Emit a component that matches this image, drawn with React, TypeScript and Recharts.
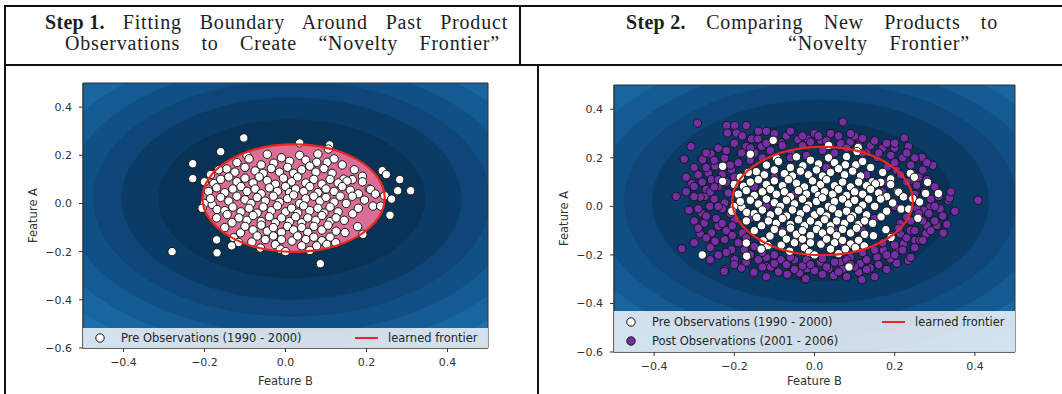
import { ScatterChart, Scatter, XAxis, YAxis, ReferenceArea, Legend } from 'recharts'

type Pt = [number, number] // [Feature B, Feature A]

// pre observations (1990 - 2000)
const prePoints: Pt[] = [
  [-0.103, 0.272], [-0.16, 0.215], [-0.095, 0.199], [-0.045, 0.204], [0.035, 0.251], [0.109, 0.243], [0.106, 0.226], [0.08, 0.205],
  [-0.12, 0.17], [-0.09, 0.185], [-0.06, 0.16], [-0.029, 0.167], [-0.01, 0.19], [0.01, 0.175], [0.035, 0.2], [0.05, 0.18],
  [0.077, 0.171], [0.103, 0.171], [0.12, 0.185], [0.14, 0.16],
  [-0.229, 0.165], [-0.229, 0.103], [-0.145, 0.143], [-0.185, 0.12], [-0.165, 0.14], [-0.125, 0.13], [-0.1, 0.15], [-0.075, 0.135],
  [-0.055, 0.125], [-0.035, 0.145], [-0.015, 0.13], [0.005, 0.15], [0.02, 0.125], [0.04, 0.14], [0.06, 0.155], [0.075, 0.13],
  [0.095, 0.145], [0.115, 0.125], [0.144, 0.101], [0.165, 0.099], [0.19, 0.113], [0.17, 0.14], [0.239, 0.136], [0.249, 0.12], [0.282, 0.099],
  [-0.2, 0.09], [-0.177, 0.083], [-0.16, 0.1], [-0.14, 0.11], [-0.12, 0.09], [-0.1, 0.105], [-0.08, 0.085], [-0.065, 0.11],
  [-0.045, 0.095], [-0.025, 0.08], [-0.005, 0.105], [0.015, 0.09], [0.03, 0.11], [0.05, 0.085], [0.07, 0.1], [0.09, 0.08],
  [0.11, 0.1], [0.13, 0.085], [0.152, 0.093], [0.19, 0.09], [0.207, 0.06],
  [-0.19, 0.05], [-0.17, 0.065], [-0.15, 0.045], [-0.13, 0.06], [-0.11, 0.07], [-0.095, 0.05], [-0.075, 0.06], [-0.06, 0.04],
  [-0.04, 0.065], [-0.02, 0.05], [0.0, 0.07], [0.01, 0.045], [0.025, 0.06], [0.045, 0.05], [0.06, 0.07], [0.08, 0.045],
  [0.1, 0.06], [0.12, 0.05], [0.14, 0.07], [0.16, 0.055], [0.18, 0.04], [0.21, 0.058], [0.222, 0.039], [0.245, 0.032],
  [0.277, 0.053], [0.309, 0.053], [0.262, 0.018],
  [-0.2, 0.0], [-0.181, -0.004], [-0.185, 0.02], [-0.16, 0.025], [-0.14, 0.01], [-0.12, 0.03], [-0.1, 0.015], [-0.085, 0.0],
  [-0.07, 0.025], [-0.05, 0.01], [-0.03, 0.03], [-0.015, 0.005], [0.005, 0.02], [0.02, 0.035], [0.035, 0.0], [0.05, 0.02],
  [0.07, 0.03], [0.085, 0.01], [0.1, 0.025], [0.12, 0.005], [0.135, 0.03], [0.165, 0.03], [0.195, 0.014], [0.216, -0.011],
  [0.235, -0.011], [0.15, 0.0],
  [-0.206, -0.02], [-0.169, -0.025], [-0.15, -0.03], [-0.13, -0.015], [-0.11, -0.035], [-0.09, -0.02], [-0.07, -0.04], [-0.055, -0.015],
  [-0.035, -0.03], [-0.02, -0.01], [0.0, -0.035], [0.015, -0.02], [0.03, -0.04], [0.045, -0.01], [0.06, -0.03], [0.08, -0.02],
  [0.095, -0.04], [0.11, -0.015], [0.13, -0.035], [0.166, -0.043], [0.258, -0.049], [0.18, -0.02],
  [-0.144, -0.046], [-0.132, -0.08], [-0.115, -0.06], [-0.095, -0.07], [-0.08, -0.05], [-0.06, -0.075], [-0.04, -0.055], [-0.025, -0.08],
  [-0.01, -0.06], [0.01, -0.075], [0.025, -0.055], [0.04, -0.08], [0.055, -0.06], [0.075, -0.07], [0.09, -0.05], [0.11, -0.075],
  [0.125, -0.06], [0.145, -0.07], [0.178, -0.096], [-0.17, -0.06],
  [-0.111, -0.122], [-0.1, -0.095], [-0.08, -0.11], [-0.06, -0.09], [-0.045, -0.115], [-0.03, -0.1], [-0.01, -0.12], [0.005, -0.095],
  [0.02, -0.11], [0.04, -0.1], [0.055, -0.12], [0.07, -0.095], [0.09, -0.11], [0.105, -0.09], [0.125, -0.115], [0.147, -0.121],
  [0.191, -0.128], [-0.15, -0.1],
  [-0.128, -0.142], [-0.116, -0.162], [-0.083, -0.16], [-0.07, -0.135], [-0.05, -0.15], [-0.03, -0.135], [-0.01, -0.15], [0.016, -0.156],
  [0.03, -0.135], [0.05, -0.15], [0.07, -0.14], [0.09, -0.155], [0.11, -0.14], [0.124, -0.163], [-0.17, -0.151],
  [-0.169, -0.205], [-0.133, -0.176], [-0.062, -0.185], [-0.025, -0.171], [-0.013, -0.19], [0.04, -0.176], [0.077, -0.176], [0.102, -0.17],
  [0.0, -0.2], [0.06, -0.195], [-0.28, -0.2], [0.086, -0.25],
]

// post observations (2001 - 2006), right panel only
const postPoints: Pt[] = [
  [-0.292, 0.343], [-0.308, 0.247], [-0.325, 0.195], [-0.28, 0.199], [-0.258, 0.216], [-0.345, 0.041], [-0.306, 0.094], [-0.3, 0.082],
  [-0.313, -0.016], [-0.331, -0.174], [-0.219, 0.333], [-0.199, 0.333], [-0.17, 0.333], [-0.195, 0.302], [-0.217, 0.302], [-0.12, 0.309],
  [-0.157, 0.278], [-0.141, 0.278], [-0.132, 0.247], [-0.17, 0.247], [-0.224, 0.199], [-0.248, 0.165], [-0.265, 0.137], [-0.257, 0.11],
  [-0.24, 0.082], [-0.273, 0.041], [-0.261, 0.0], [-0.281, -0.028], [-0.275, -0.069], [-0.257, -0.11], [-0.24, -0.082], [-0.224, -0.137],
  [-0.248, -0.144], [-0.224, -0.261], [-0.199, -0.22], [-0.182, -0.254], [-0.153, -0.278], [-0.116, -0.247], [-0.066, -0.282], [-0.037, -0.275],
  [-0.025, -0.3], [-0.083, -0.22], [-0.207, -0.179], [-0.199, -0.055], [-0.224, 0.014], [-0.215, 0.055], [-0.207, 0.151], [-0.182, 0.22],
  [-0.149, 0.22], [-0.083, 0.261], [-0.041, 0.275], [-0.017, 0.278], [-0.058, 0.22],
  [0.071, 0.348], [0.224, 0.282], [0.234, 0.247], [0.268, 0.201], [0.251, 0.197], [0.295, 0.169], [0.408, 0.025], [0.334, 0.025],
  [0.337, 0.035], [0.313, -0.01], [0.305, -0.078], [0.33, -0.074], [0.321, -0.11], [0.28, -0.078], [0.278, -0.113], [0.263, -0.044],
  [0.251, -0.14], [0.234, -0.223], [0.205, -0.234], [0.189, -0.216], [0.139, -0.254], [0.118, -0.302], [0.11, -0.271], [0.048, -0.285],
  [0.036, -0.257], [0.015, -0.23], [-0.022, -0.298], [-0.018, -0.257], [0.114, 0.269], [0.089, 0.265], [0.065, 0.259], [0.015, 0.272],
  [-0.01, 0.265], [0.131, 0.224], [0.156, 0.201], [0.181, 0.162], [0.205, 0.148], [0.239, 0.107], [0.255, 0.087], [0.288, -0.003],
  [0.272, -0.016], [0.263, -0.14], [0.222, -0.154], [0.205, -0.181], [0.172, -0.181], [0.156, -0.209], [0.114, -0.236], [0.089, -0.209],
  [0.065, -0.23], [0.239, -0.099], [0.214, -0.113], [0.255, -0.01], [0.23, -0.044], [0.214, -0.071],
  [-0.225, -0.268], [-0.279, 0.192], [-0.285, 0.038], [-0.285, -0.113], [-0.151, -0.271], [-0.109, -0.25], [-0.068, -0.28],
  [-0.29, 0.13], [-0.27, 0.07], [-0.25, 0.03], [-0.23, -0.01], [-0.245, -0.05], [-0.22, -0.1], [-0.205, -0.12], [-0.19, -0.15],
  [-0.175, -0.18], [-0.16, -0.2], [-0.14, -0.22], [-0.12, -0.21], [-0.1, -0.235], [-0.07, -0.24], [-0.05, -0.22], [-0.03, -0.245],
  [0.0, -0.265], [0.02, -0.28], [0.07, -0.26], [0.1, -0.25], [0.13, -0.22], [0.16, -0.24], [0.18, -0.2], [0.2, -0.16],
  [0.23, -0.13], [0.25, -0.1], [0.27, -0.06], [0.285, -0.03], [0.29, 0.03], [0.275, 0.06], [0.26, 0.12], [0.24, 0.17],
  [0.22, 0.2], [0.19, 0.21], [0.17, 0.24], [0.14, 0.25], [0.1, 0.29], [0.04, 0.3], [0.0, 0.3], [-0.03, 0.25],
  [-0.07, 0.29], [-0.1, 0.27], [-0.11, 0.23], [-0.13, 0.2], [-0.16, 0.19], [-0.19, 0.18], [-0.21, 0.17], [-0.23, 0.13],
  [-0.22, 0.1], [-0.2, 0.12], [-0.24, 0.11], [-0.26, 0.06], [-0.24, 0.0], [-0.21, -0.03], [-0.23, -0.07], [-0.205, -0.08],
  [-0.18, -0.11], [-0.17, -0.13], [-0.15, -0.165], [-0.13, -0.19], [-0.1, -0.2], [-0.06, -0.21], [-0.02, -0.22], [0.02, -0.215],
  [0.05, -0.23], [0.08, -0.22], [0.12, -0.19], [0.15, -0.18], [0.17, -0.15], [0.19, -0.12], [0.21, -0.09], [0.24, -0.06],
  [0.26, -0.03], [0.25, 0.05], [0.23, 0.1], [0.215, 0.13], [0.2, 0.18], [0.16, 0.22], [0.12, 0.22], [0.08, 0.24],
  [0.05, 0.22], [0.02, 0.23], [-0.02, 0.21], [-0.06, 0.2],
  [-0.15, 0.08], [-0.12, 0.0], [-0.08, -0.1], [0.0, 0.1], [0.05, -0.1], [0.1, 0.05], [0.15, -0.05], [0.17, 0.06],
  [0.13, 0.13], [-0.05, 0.05], [0.07, -0.15], [-0.1, 0.12], [0.12, -0.1], [0.18, 0.1], [0.2, 0.0], [-0.16, -0.05],
  [0.03, 0.16], [-0.03, -0.16],
  [-0.18, 0.29], [-0.14, 0.31], [-0.1, 0.3], [-0.06, 0.31], [-0.03, 0.29], [0.01, 0.29], [0.03, 0.27], [0.06, 0.29],
  [0.09, 0.3], [0.12, 0.28], [0.15, 0.27], [0.18, 0.26], [0.2, 0.24], [-0.08, 0.25], [-0.12, 0.26], [-0.16, 0.24],
  [0.04, 0.25], [0.11, 0.25],
  [-0.27, 0.16], [-0.25, 0.19], [-0.22, 0.23], [-0.2, 0.26], [-0.24, 0.24], [-0.27, 0.22], [-0.3, 0.16], [-0.32, 0.12],
  [-0.3, 0.04], [-0.29, -0.01], [-0.27, -0.04], [-0.3, -0.06], [-0.29, -0.09], [-0.32, 0.06], [-0.28, 0.1], [-0.25, 0.08],
  [-0.27, -0.13], [-0.26, -0.17], [-0.24, -0.2], [-0.22, -0.19], [-0.2, -0.24], [-0.17, -0.23], [-0.3, -0.15], [-0.26, -0.22],
  [-0.13, -0.25], [-0.09, -0.27], [-0.05, -0.26], [-0.01, -0.24], [0.03, -0.25], [0.06, -0.27], [0.09, -0.24], [0.13, -0.26],
  [0.15, -0.29], [0.08, -0.29], [-0.12, -0.29],
  [0.2, -0.2], [0.22, -0.18], [0.25, -0.17], [0.27, -0.14], [0.29, -0.1], [0.3, -0.06], [0.24, -0.21], [0.18, -0.26],
  [0.3, 0.0], [0.31, 0.04], [0.3, 0.08], [0.28, 0.11], [0.32, -0.04], [0.35, -0.02], [0.34, 0.06],
  [0.27, 0.15], [0.25, 0.2], [0.23, 0.22], [0.28, 0.18], [0.2, 0.26],
]

const xTicks = [-0.4, -0.2, 0, 0.2, 0.4]
const yTicks = [-0.6, -0.4, -0.2, 0, 0.2, 0.4]

// decision-function contour levels (outermost first)
const contourCenter = [0.015, 0.02]
const contourRadii = [0.86, 0.78, 0.7, 0.63, 0.56, 0.49, 0.42, 0.33]
const contourColors = ['#2079b7', '#1c70ac', '#1866a0', '#145b93', '#115086', '#0e4677', '#0b3c67', '#093356']
const contourBackground = '#2783c2'

const frontierCenter = [0.02, 0.022]
const frontierRadii = [0.225, 0.223]

const PRE_FILL = '#ffffff'
const POST_FILL = '#7530a8'
const FRONTIER_RED = '#e8281e'
const TICK_COLOR = '#333'
const SANS = '"DejaVu Sans", Verdana, sans-serif'

const toRows = (pts: Pt[]) => pts.map(([b, a]) => ({ b, a }))
const fmt = (v: number) => v.toFixed(1).replace('-', '\u2212')

const ellipse = (fill: string, stroke = 'none', strokeWidth = 0) => (p: any) => (
  <ellipse
    cx={p.x + p.width / 2}
    cy={p.y + p.height / 2}
    rx={Math.abs(p.width) / 2}
    ry={Math.abs(p.height) / 2}
    fill={fill}
    fillOpacity={1}
    stroke={stroke}
    strokeWidth={strokeWidth}
    clipPath={p.clipPath}
  />
)

const dot = (fill: string) => (p: any) => (
  <circle cx={p.cx} cy={p.cy} r={4.2} fill={fill} stroke="#151515" strokeWidth={1} />
)

function Marker({ fill }: { fill: string }) {
  return (
    <svg width={10} height={10} style={{ position: 'absolute', left: -5, top: -5 }}>
      <circle cx={5} cy={5} r={4.2} fill={fill} stroke="#151515" strokeWidth={1} />
    </svg>
  )
}

interface LegendRow { label: string; fill: string }

function LegendBox({ width, height, rows, markerX, textX, rowY, lineX, lineW }: {
  width: number; height: number; rows: LegendRow[]; markerX: number; textX: number; rowY: number[]; lineX: number; lineW: number
}) {
  const text = { position: 'absolute' as const, fontFamily: SANS, fontSize: 11.5, color: '#262626', lineHeight: '14px', whiteSpace: 'nowrap' as const }
  return (
    <div style={{ position: 'relative', width, height, background: 'rgba(255,255,255,0.8)' }}>
      {rows.map((r, i) => (
        <div key={r.label}>
          <div style={{ position: 'absolute', left: markerX, top: rowY[i] }}><Marker fill={r.fill} /></div>
          <div style={{ ...text, left: textX, top: rowY[i] - 7 }}>{r.label}</div>
        </div>
      ))}
      <div style={{ position: 'absolute', left: lineX, top: rowY[0] - 1.25, width: lineW, height: 2.5, background: FRONTIER_RED }} />
      <div style={{ ...text, left: lineX + lineW + 10, top: rowY[0] - 7 }}>learned frontier</div>
    </div>
  )
}

function NoveltyPanel({ left, width, margin, xAxisHeight, showPost, legendTop }: {
  left: number; width: number; margin: { top: number; right: number; bottom: number; left: number }
  xAxisHeight: number; showPost: boolean; legendTop: number
}) {
  const plotLeft = margin.left + 50
  const plotWidth = width - margin.right - plotLeft
  const plotBottom = 394 - margin.bottom - xAxisHeight
  const legendHeight = plotBottom - legendTop
  const rows: LegendRow[] = [{ label: 'Pre Observations (1990 - 2000)', fill: PRE_FILL }]
  if (showPost) rows.push({ label: 'Post Observations (2001 - 2006)', fill: POST_FILL })
  const rowY = showPost ? [11, 30] : [10]
  const tick = { fontSize: 11, fill: TICK_COLOR, fontFamily: SANS }

  return (
    <div style={{ position: 'absolute', left, top: 0 }}>
      <ScatterChart width={width} height={394} margin={margin}>
        <XAxis
          type="number"
          dataKey="b"
          domain={[-0.5, 0.5]}
          ticks={xTicks}
          allowDataOverflow
          tickFormatter={fmt}
          height={xAxisHeight}
          tick={tick}
          tickSize={4}
          tickMargin={6}
          axisLine={{ stroke: '#333' }}
          tickLine={{ stroke: '#333' }}
          label={{ value: 'Feature B', position: 'insideBottom', offset: 3, fill: TICK_COLOR, fontSize: 11.5, fontFamily: SANS }}
        />
        <YAxis
          type="number"
          dataKey="a"
          domain={[-0.6, 0.5]}
          ticks={yTicks}
          allowDataOverflow
          tickFormatter={fmt}
          width={50}
          tick={tick}
          tickSize={4}
          tickMargin={7}
          axisLine={{ stroke: '#333' }}
          tickLine={{ stroke: '#333' }}
          label={{ value: 'Feature A', angle: -90, position: 'insideLeft', offset: 0, fill: TICK_COLOR, fontSize: 11.5, fontFamily: SANS, style: { textAnchor: 'middle' } }}
        />
        <ReferenceArea x1={-0.5} x2={0.5} y1={-0.6} y2={0.5} fill={contourBackground} fillOpacity={1} stroke="none" ifOverflow="hidden" />
        {contourRadii.map((r, i) => (
          <ReferenceArea
            key={r}
            x1={contourCenter[0] - r}
            x2={contourCenter[0] + r}
            y1={contourCenter[1] - r}
            y2={contourCenter[1] + r}
            ifOverflow="hidden"
            shape={ellipse(contourColors[i])}
          />
        ))}
        {!showPost && (
          <ReferenceArea
            x1={frontierCenter[0] - frontierRadii[0]}
            x2={frontierCenter[0] + frontierRadii[0]}
            y1={frontierCenter[1] - frontierRadii[1]}
            y2={frontierCenter[1] + frontierRadii[1]}
            ifOverflow="hidden"
            shape={ellipse('#dc6d96')}
          />
        )}
        {showPost && (
          <Scatter name="Post Observations (2001 - 2006)" data={toRows(postPoints)} shape={dot(POST_FILL)} isAnimationActive={false} />
        )}
        <Scatter name="Pre Observations (1990 - 2000)" data={toRows(prePoints)} shape={dot(PRE_FILL)} isAnimationActive={false} />
        <ReferenceArea
          x1={frontierCenter[0] - frontierRadii[0]}
          x2={frontierCenter[0] + frontierRadii[0]}
          y1={frontierCenter[1] - frontierRadii[1]}
          y2={frontierCenter[1] + frontierRadii[1]}
          ifOverflow="hidden"
          zIndex={700}
          shape={ellipse('none', FRONTIER_RED, 2.2)}
        />
        <ReferenceArea x1={-0.5} x2={0.5} y1={-0.6} y2={0.5} fill="none" stroke="#333" strokeWidth={1} ifOverflow="visible" zIndex={700} />
        <Legend
          layout="horizontal"
          verticalAlign="middle"
          align="center"
          wrapperStyle={{ left: plotLeft, top: legendTop, width: plotWidth, height: legendHeight }}
          content={() => (
            <LegendBox
              width={plotWidth}
              height={legendHeight}
              rows={rows}
              markerX={17}
              textX={38}
              rowY={rowY}
              lineX={showPost ? 268 : 272}
              lineW={23}
            />
          )}
        />
      </ScatterChart>
    </div>
  )
}

const serif = {
  position: 'absolute' as const,
  fontFamily: '"Liberation Serif", "DejaVu Serif", serif',
  fontSize: 20,
  lineHeight: '20px',
  height: 20,
  color: '#1e1e1e',
  letterSpacing: 0.8,
  textAlign: 'justify' as const,
  textAlignLast: 'justify' as const,
}

const stepLabel = { display: 'inline-block', letterSpacing: 0.3 }

export default function App() {
  const line = (l: number, t: number, w: number, h: number) => (
    <div style={{ position: 'absolute', left: l, top: t, width: w, height: h, background: '#111' }} />
  )
  return (
    <div style={{ position: 'absolute', left: 0, top: 0, width: 1062, height: 394, background: '#fff', overflow: 'hidden' }}>
      {line(4, 5, 1058, 2)}
      {line(4, 5, 2, 389)}
      {line(4, 64, 1058, 2)}
      {line(519, 5, 2, 60)}
      {line(537, 64, 2, 330)}

      <div style={{ ...serif, left: 45, top: 12, width: 463 }}><b style={stepLabel}>Step 1.</b> Fitting Boundary Around Past Product</div>
      <div style={{ ...serif, left: 65, top: 33, width: 435 }}>Observations to Create “Novelty Frontier”</div>
      <div style={{ ...serif, left: 626, top: 12, width: 372 }}><b style={stepLabel}>Step 2.</b> Comparing New Products to</div>
      <div style={{ ...serif, left: 788, top: 33, width: 182 }}>“Novelty Frontier”</div>

      <NoveltyPanel
        left={0}
        width={540}
        margin={{ top: 83, right: 52, bottom: 6, left: 33 }}
        xAxisHeight={40}
        showPost={false}
        legendTop={328}
      />
      <NoveltyPanel
        left={540}
        width={522}
        margin={{ top: 85, right: 47, bottom: 6, left: 24 }}
        xAxisHeight={36}
        showPost={true}
        legendTop={311}
      />
    </div>
  )
}
